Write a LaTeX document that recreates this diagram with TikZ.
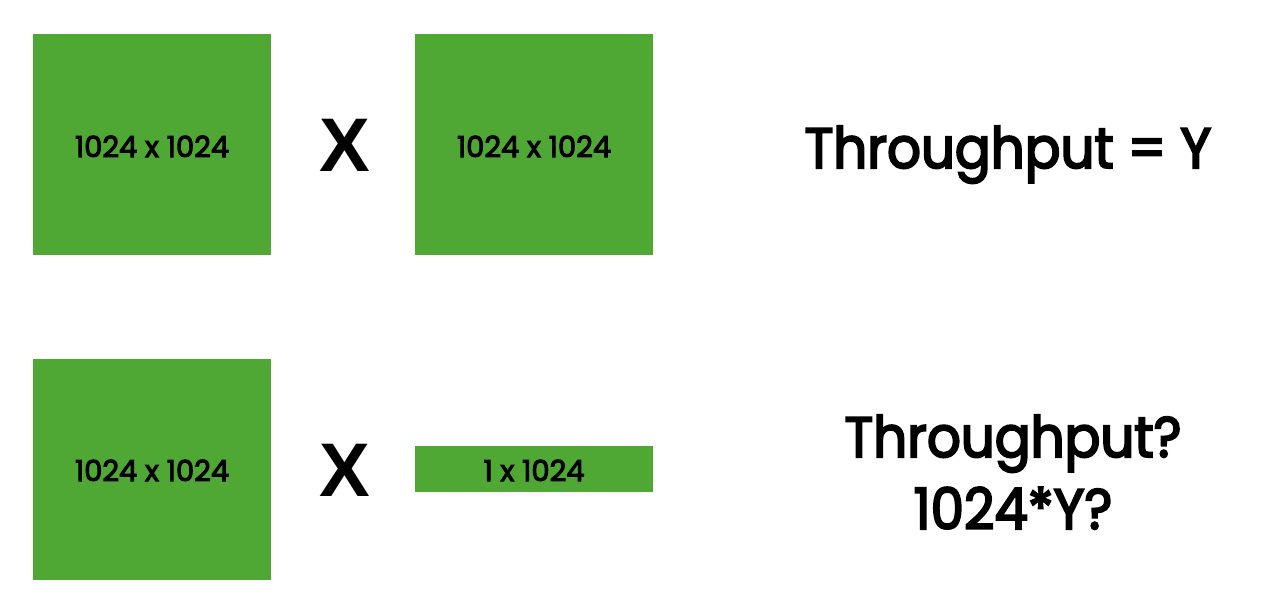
\documentclass[tikz,border=0pt]{standalone}
\usepackage{fontspec}
\setmainfont{Poppins}
\newfontfamily\pfont{Poppins}[FakeBold=3.5]
\newfontfamily\bfont{Poppins}[FakeBold=3.5,FakeStretch=0.93]
\newfontfamily\xfont{Liberation Sans}
\definecolor{mgreen}{RGB}{79,168,52}
\begin{document}
\begin{tikzpicture}[x=1pt,y=-1pt,
  mat/.style={fill=mgreen,draw=none,inner sep=0pt,font=\pfont\fontsize{29}{34}\selectfont},
  times/.style={font=\xfont\fontsize{76}{80}\selectfont\bfseries,inner sep=0pt},
  big/.style={font=\bfont\fontsize{57}{66}\selectfont,inner sep=0pt,anchor=base}]
\useasboundingbox (0,0) rectangle (1283,614);
\fill[white] (0,0) rectangle (1283,614);
\node[mat,minimum width=238pt,minimum height=221pt] (a) at (152,144.5) {};
\node[mat,minimum width=238pt,minimum height=221pt] (b) at (534,144.5) {};
\node[mat,minimum width=238pt,minimum height=221pt] (c) at (152,469.5) {};
\node[mat,minimum width=238pt,minimum height=46pt] (d) at (534,469) {};
\node[mat,fill=none,anchor=base] (ta) at (152,157) {1024 x 1024};
\node[mat,fill=none,anchor=base] (tb) at (534,157) {1024 x 1024};
\node[mat,fill=none,anchor=base] (tc) at (152,481) {1024 x 1024};
\node[mat,fill=none,anchor=base] (td) at (534,481) {1 x 1024};
\node[times] (x1) at (344.5,145.5) {X};
\node[times] (x2) at (344.5,470) {X};
\node[big] (t1) at (1008,168) {Throughput = Y};
\node[big] (t2) at (1013,457) {Throughput?};
\node[big] (t3) at (1013,529) {1024*Y?};
\end{tikzpicture}
\end{document}
